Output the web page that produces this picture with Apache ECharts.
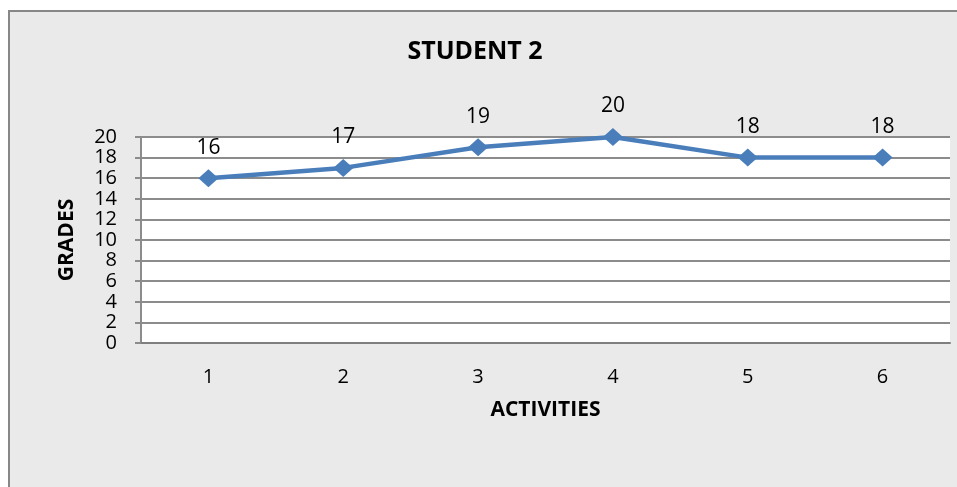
<!DOCTYPE html>
<html><head><meta charset="utf-8">
<script src="https://cdn.jsdelivr.net/npm/echarts@6/dist/echarts.min.js"></script>
<style>html,body{margin:0;padding:0;background:#fff}#c{width:957px;height:487px}</style>
</head><body><div id="c"></div>
<script>
const categories = ['1','2','3','4','5','6'];
const grades = [16,17,19,20,18,18];
const titleText = 'STUDENT 2';
const xName = 'ACTIVITIES';
const yName = 'GRADES';

const chart = echarts.init(document.getElementById('c'));
chart.setOption({
  animation:false,
  backgroundColor:'#fff',
  graphic:[{type:'rect',z:-10,shape:{x:9,y:11,width:960,height:490},style:{fill:'#eaeaea',stroke:'#878787',lineWidth:2}}],
  title:{text:titleText,left:470,top:34,textAlign:'center',textStyle:{fontFamily:'Open Sans',fontWeight:'bold',fontSize:25,color:'#000'}},
  grid:{left:141,right:7,top:137,bottom:144,show:true,backgroundColor:'#fff',borderWidth:0},
  xAxis:{type:'category',data:categories,name:xName,nameLocation:'middle',nameGap:57,
    nameTextStyle:{fontFamily:'Open Sans',fontWeight:'bold',fontSize:21,color:'#000'},
    axisLine:{lineStyle:{color:'#7f7f7f',width:2}},axisTick:{show:false},
    axisLabel:{margin:24,fontFamily:'Open Sans',fontSize:20,color:'#000'}},
  yAxis:{type:'value',min:0,max:20,interval:2,name:yName,nameLocation:'middle',nameGap:63,
    nameTextStyle:{fontFamily:'Open Sans',fontWeight:'bold',fontSize:21,color:'#000'},
    axisLine:{show:true,lineStyle:{color:'#8c8c8c',width:2}},
    axisTick:{show:true,length:6,lineStyle:{color:'#8c8c8c',width:2}},
    splitLine:{lineStyle:{color:'#8c8c8c',width:2}},
    axisLabel:{margin:24,fontFamily:'Open Sans',fontSize:20,color:'#000',lineHeight:18}},
  series:[{type:'line',data:grades,symbol:'diamond',symbolSize:[20,18],
    lineStyle:{color:'#4a7ebb',width:4.5},itemStyle:{color:'#4a7ebb'},
    label:{show:true,position:'top',distance:11,fontFamily:'Open Sans',fontSize:21,color:'#000'}}]
});
</script></body></html>
